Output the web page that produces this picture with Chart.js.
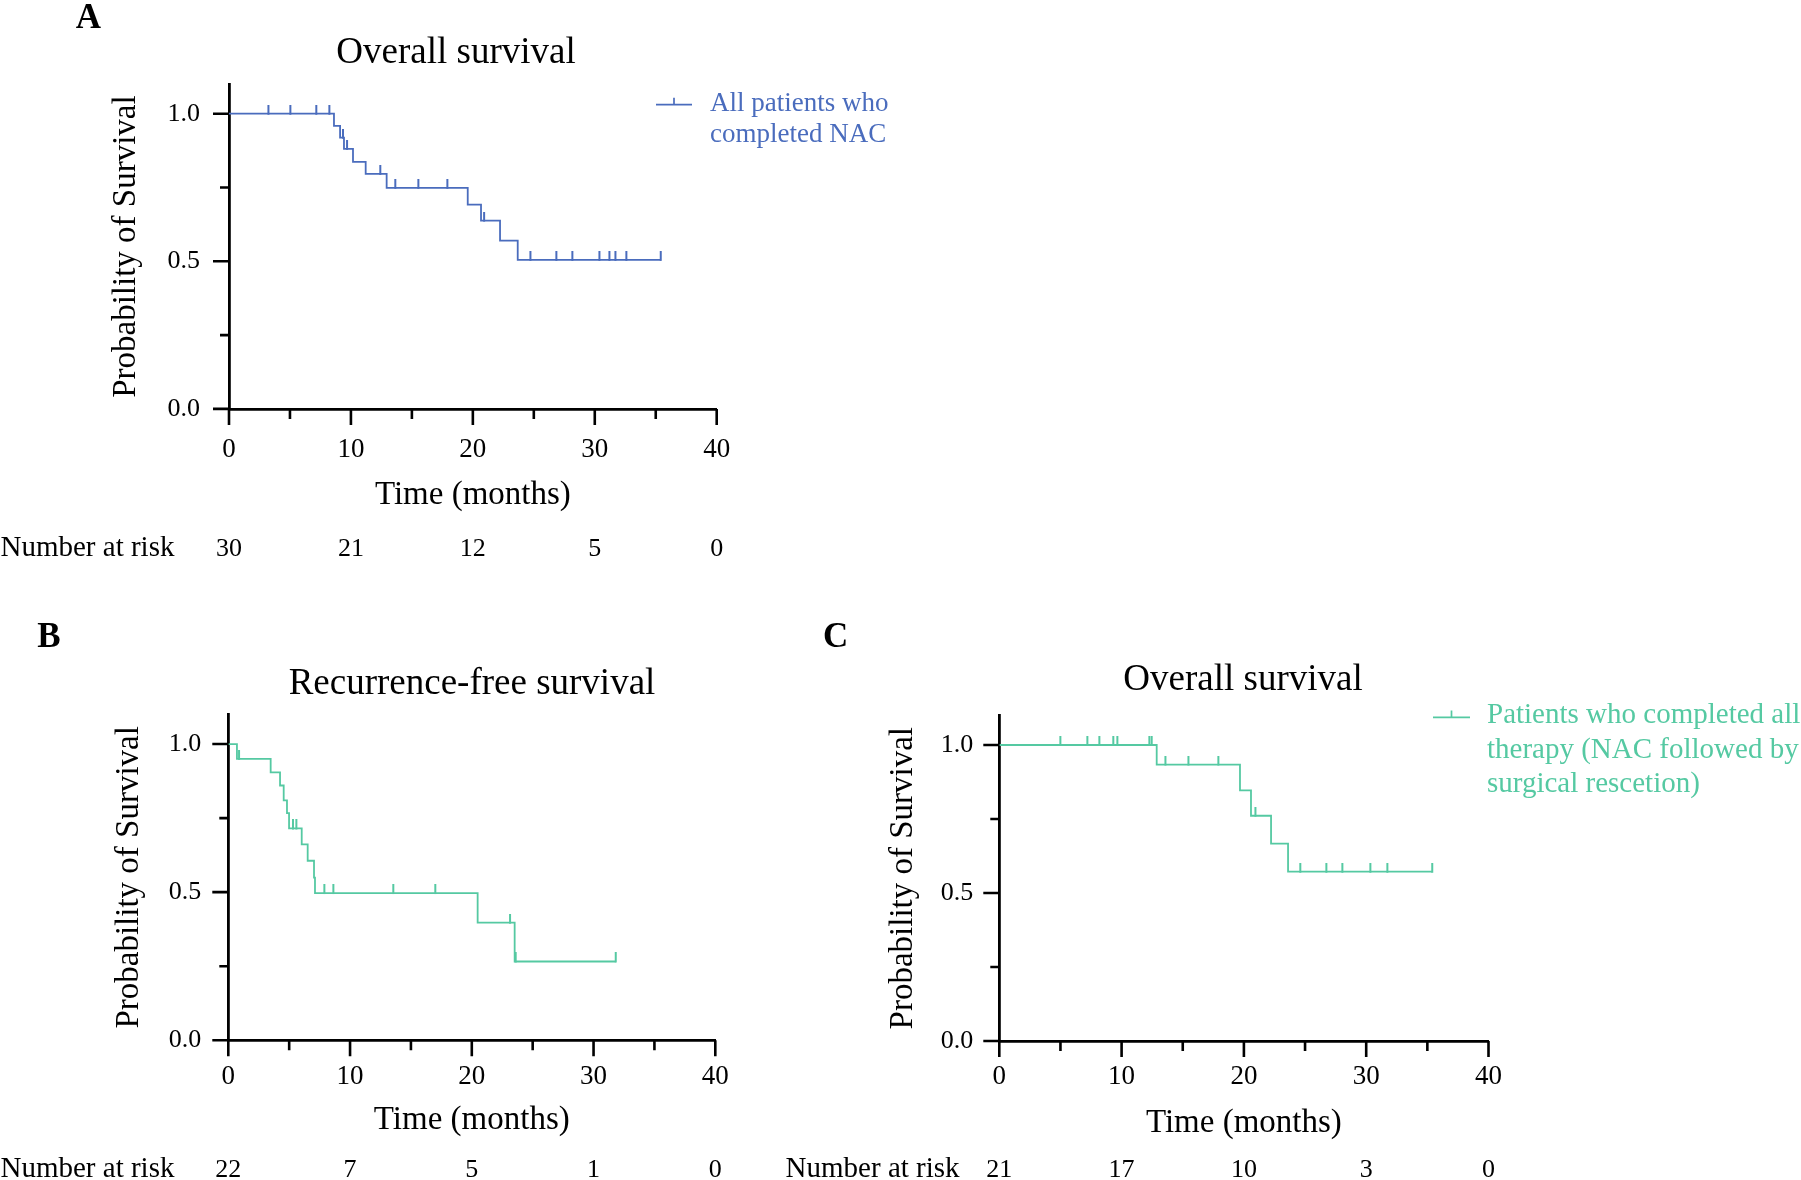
<!DOCTYPE html>
<html><head><meta charset="utf-8">
<script src="https://cdn.jsdelivr.net/npm/chart.js@4.4.1/dist/chart.umd.min.js"></script>
<style>
html,body{margin:0;padding:0;background:#fff;}
#wrap{position:relative;width:1801px;height:1180px;overflow:hidden;background:#fff;}
canvas{position:absolute;}
</style></head><body>
<div id="wrap">
<canvas id="cA" width="912" height="580" style="left:0px;top:0px"></canvas>
<canvas id="cB" width="944" height="600" style="left:0px;top:580px"></canvas>
<canvas id="cC" width="1166" height="600" style="left:660px;top:580px"></canvas>
</div>
<script>
// ---------- data ----------
const xTickValues = [0, 10, 20, 30, 40];
const xMinorTickValues = [5, 15, 25, 35];
const yTickValues = [0, 0.5, 1.0];
const yMinorTickValues = [0.25, 0.75];
const riskTimes = [0, 10, 20, 30, 40];

// Panel A: overall survival, all patients who completed NAC
const timesA = [0, 8.61, 9.11, 9.43, 10.17, 11.21, 12.93, 19.58, 20.67, 22.23, 23.68, 35.41];
const survA  = [1.0, 0.959, 0.919, 0.881, 0.837, 0.796, 0.749, 0.692, 0.638, 0.570, 0.505, 0.505];
const censorTimesA = [3.23, 5.03, 7.16, 8.23, 9.35, 9.68, 12.41, 13.64, 15.53, 17.91, 20.92, 24.72, 26.85, 28.16, 30.38, 31.2, 31.69, 32.59, 35.41];
const censorSurvA  = [1, 1, 1, 1, 0.919, 0.881, 0.796, 0.749, 0.749, 0.749, 0.638, 0.505, 0.505, 0.505, 0.505, 0.505, 0.505, 0.505, 0.505];
const riskA = [30, 21, 12, 5, 0];

// Panel B: recurrence-free survival
const timesB = [0, 0.71, 3.48, 4.25, 4.55, 4.82, 4.99, 6.03, 6.52, 7.04, 7.12, 20.48, 23.52, 31.82];
const survB  = [1.0, 0.950, 0.904, 0.860, 0.810, 0.767, 0.715, 0.661, 0.606, 0.549, 0.497, 0.397, 0.266, 0.266];
const censorTimesB = [0.88, 5.31, 5.59, 7.89, 8.63, 13.55, 17.0, 23.14, 23.6, 31.82];
const censorSurvB  = [0.950, 0.715, 0.715, 0.497, 0.497, 0.497, 0.497, 0.397, 0.266, 0.266];
const riskB = [22, 7, 5, 1, 0];

// Panel C: overall survival, patients who completed all therapy
const timesC = [0, 12.87, 19.68, 20.58, 22.22, 23.61, 35.4];
const survC  = [1.0, 0.934, 0.847, 0.761, 0.667, 0.572, 0.572];
const censorTimesC = [4.99, 7.2, 8.18, 9.32, 9.65, 12.27, 12.46, 13.58, 15.46, 17.91, 20.94, 24.61, 26.74, 28.05, 30.34, 31.73, 35.4];
const censorSurvC  = [1, 1, 1, 1, 1, 1, 1, 0.934, 0.934, 0.934, 0.761, 0.572, 0.572, 0.572, 0.572, 0.572, 0.572];
const riskC = [21, 17, 10, 3, 0];

const titleA = 'Overall survival';
const titleB = 'Recurrence-free survival';
const titleC = 'Overall survival';
const legendA = ['All patients who', 'completed NAC'];
const legendC = ['Patients who completed all', 'therapy (NAC followed by', 'surgical rescetion)'];
const xAxisTitle = 'Time (months)';
const yAxisTitle = 'Probability of Survival';
const riskLabel = 'Number at risk';

// ---------- styles / layout (canvas-local pixels) ----------
const FONT = "'Liberation Serif','Times New Roman',Times,serif";
const BLUE = '#4a6cbd';
const GREEN = '#55c9a2';
const TITLE_SIZE = 37, AXIS_TITLE_SIZE = 33, YTICK_SIZE = 26, XTICK_SIZE = 27;

const layouts = {
  A: { area: {left: 229, right: 716.7, top: 84.2, bottom: 408.9}, W: 912, H: 580,
       titleMid: 53.5, yTitleX: 126.5, yTickPad: 29, xTickMid: 450, xTitleMid: 495.7, xH: 120,
       riskY: 556, riskLabelX: 0.5, letter: {x: 88.3, y: 27.5},
       legend: {x0: 656, x1: 692, y: 104.7, tx: 710, ty: 110.7, dy: 31, size: 27} },
  B: { area: {left: 228.3, right: 715.3, top: 134.4, bottom: 460.3}, W: 944, H: 600,
       titleMid: 104.4, yTitleX: 129, yTickPad: 27, xTickMid: 496.5, xTitleMid: 540.5, xH: 100,
       riskY: 597, riskLabelX: 0.5, letter: {x: 49, y: 67}, legend: null },
  C: { area: {left: 339.3, right: 828.5, top: 135.4, bottom: 461}, W: 1166, H: 600,
       titleMid: 100, yTitleX: 243, yTickPad: 26, xTickMid: 497, xTitleMid: 543.1, xH: 100,
       riskY: 597, riskLabelX: 125.6, letter: {x: 175.6, y: 67},
       legend: {x0: 773, x1: 810, y: 137.4, tx: 827, ty: 143, dy: 34.5, size: 29} }
};

function tickImage(color, len) {
  const c = document.createElement('canvas');
  c.width = 4; c.height = len * 2;
  const g = c.getContext('2d');
  g.strokeStyle = color; g.lineWidth = 2;
  g.beginPath(); g.moveTo(2, 0); g.lineTo(2, len + 1); g.stroke();
  return c;
}

const pts = (xs, ys) => xs.map((x, i) => ({x: x, y: ys[i]}));

const extras = {
  id: 'kmExtras',
  afterDraw(chart) {
    const cfg = chart.$km;
    const ctx = chart.ctx;
    const xs = chart.scales.x, ys = chart.scales.y;
    const b = chart.chartArea.bottom, l = chart.chartArea.left;
    ctx.save();
    // axis tick marks (major / minor)
    ctx.strokeStyle = '#000'; ctx.lineWidth = 2.6; ctx.lineCap = 'butt';
    ctx.beginPath();
    xTickValues.forEach(v => { const p = xs.getPixelForValue(v); ctx.moveTo(p, b); ctx.lineTo(p, b + 16); });
    xMinorTickValues.forEach(v => { const p = xs.getPixelForValue(v); ctx.moveTo(p, b); ctx.lineTo(p, b + 10); });
    yTickValues.forEach(v => { const p = ys.getPixelForValue(v); ctx.moveTo(l, p); ctx.lineTo(l - 16, p); });
    yMinorTickValues.forEach(v => { const p = ys.getPixelForValue(v); ctx.moveTo(l, p); ctx.lineTo(l - 9, p); });
    ctx.stroke();
    // panel letter
    ctx.fillStyle = '#000';
    ctx.font = 'bold 35px ' + FONT;
    ctx.textAlign = 'center'; ctx.textBaseline = 'alphabetic';
    ctx.fillText(cfg.letter, cfg.L.letter.x, cfg.L.letter.y);
    // number at risk
    ctx.font = '29px ' + FONT; ctx.textAlign = 'left';
    ctx.fillText(riskLabel, cfg.L.riskLabelX, cfg.L.riskY);
    ctx.font = '26px ' + FONT; ctx.textAlign = 'center';
    riskTimes.forEach((t, i) => ctx.fillText(String(cfg.risk[i]), xs.getPixelForValue(t), cfg.L.riskY));
    // legend
    const lg = cfg.L.legend;
    if (lg) {
      ctx.strokeStyle = cfg.color; ctx.lineWidth = 1.7;
      ctx.beginPath();
      ctx.moveTo(lg.x0, lg.y); ctx.lineTo(lg.x1, lg.y);
      const mid = (lg.x0 + lg.x1) / 2;
      ctx.moveTo(mid, lg.y); ctx.lineTo(mid, lg.y - 7);
      ctx.stroke();
      ctx.fillStyle = cfg.color;
      ctx.font = lg.size + 'px ' + FONT; ctx.textAlign = 'left';
      cfg.legend.forEach((s, i) => ctx.fillText(s, lg.tx, lg.ty + i * lg.dy));
    }
    ctx.restore();
  }
};

function makeChart(id, key, title, color, times, surv, cT, cS, risk, legend) {
  const L = layouts[key];
  const a = L.area;
  const tLH = TITLE_SIZE * 1.2, aLH = AXIS_TITLE_SIZE * 1.2, xLH = XTICK_SIZE * 1.2;
  const titlePadTop = L.titleMid - tLH / 2;
  const titlePadBottom = a.top - tLH - titlePadTop;
  const yW = a.left;                    // left layout padding is 0
  const rightW = L.W - a.right;         // spacer box on the right keeps the title centred
  const padB = L.H - a.bottom - L.xH;
  const xTitlePadB = a.bottom + L.xH - aLH / 2 - L.xTitleMid;
  const xTickPad = L.xTickMid - a.bottom - xLH / 2;
  const yTitlePadTop = L.yTitleX - aLH / 2;
  const tick = tickImage(color, 9);

  return new Chart(document.getElementById(id), {
    type: 'line',
    data: {
      datasets: [
        { data: pts(times, surv), xAxisID: 'x', yAxisID: 'y', borderColor: color, borderWidth: 1.8,
          stepped: 'before', pointRadius: 0, fill: false },
        { data: pts(cT, cS), xAxisID: 'x', yAxisID: 'y', showLine: false, pointStyle: tick, pointRadius: 5,
          borderColor: color, backgroundColor: color }
      ]
    },
    options: {
      responsive: false, animation: false, events: [], devicePixelRatio: 1,
      layout: { padding: { left: 0, right: 0, top: 0, bottom: padB } },
      plugins: {
        legend: { display: false }, tooltip: { enabled: false },
        title: { display: true, text: title, color: '#000',
                 font: { family: FONT, size: TITLE_SIZE, weight: 'normal', lineHeight: 1.2 },
                 padding: { top: titlePadTop, bottom: titlePadBottom } }
      },
      scales: {
        x: {
          type: 'linear', position: 'bottom', min: 0, max: 40,
          grid: { display: true, drawOnChartArea: false, drawTicks: false },
          border: { display: true, color: '#000', width: 2.8 },
          afterBuildTicks: s => { s.ticks = xTickValues.map(v => ({value: v})); },
          afterFit: s => { s.height = L.xH; },
          ticks: { color: '#000', padding: xTickPad, maxRotation: 0, autoSkip: false,
                   font: { family: FONT, size: XTICK_SIZE, lineHeight: 1.2 },
                   callback: v => String(v) },
          title: { display: true, text: xAxisTitle, color: '#000',
                   font: { family: FONT, size: AXIS_TITLE_SIZE, lineHeight: 1.2 },
                   padding: { top: 0, bottom: xTitlePadB } }
        },
        y: {
          type: 'linear', position: 'left', min: 0, max: 1.1,
          grid: { display: true, drawOnChartArea: false, drawTicks: false },
          border: { display: true, color: '#000', width: 2.8 },
          afterBuildTicks: s => { s.ticks = yTickValues.map(v => ({value: v})); },
          afterFit: s => { s.width = yW; },
          ticks: { color: '#000', padding: L.yTickPad, autoSkip: false,
                   font: { family: FONT, size: YTICK_SIZE, lineHeight: 1.2 },
                   callback: v => Number(v).toFixed(1) },
          title: { display: true, text: yAxisTitle, color: '#000',
                   font: { family: FONT, size: AXIS_TITLE_SIZE, lineHeight: 1.2 },
                   padding: { top: yTitlePadTop, bottom: 0 } }
        },
        spacer: {
          type: 'linear', axis: 'y', position: 'right', min: 0, max: 1,
          grid: { display: false }, border: { display: false },
          ticks: { display: false }, title: { display: false },
          afterFit: s => { s.width = rightW; }
        }
      }
    },
    plugins: [{ id: 'kmSetup', beforeInit(ch) { ch.$km = { L: L, letter: key, risk: risk, legend: legend, color: color }; } }, extras]
  });
}

makeChart('cA', 'A', titleA, BLUE, timesA, survA, censorTimesA, censorSurvA, riskA, legendA);
makeChart('cB', 'B', titleB, GREEN, timesB, survB, censorTimesB, censorSurvB, riskB, null);
makeChart('cC', 'C', titleC, GREEN, timesC, survC, censorTimesC, censorSurvC, riskC, legendC);
</script>
</body></html>
